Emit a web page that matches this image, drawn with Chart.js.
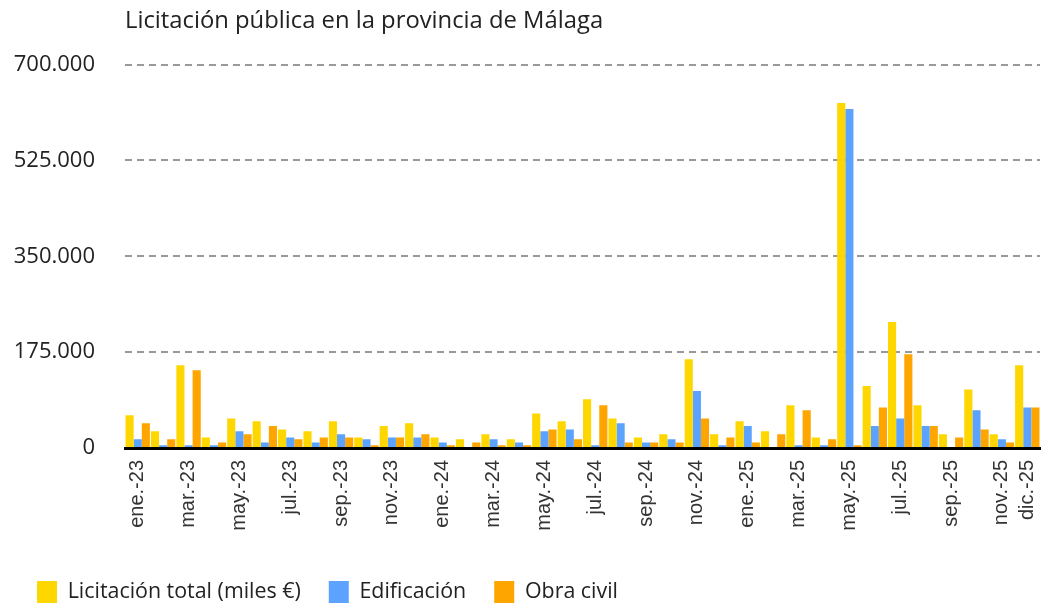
<!DOCTYPE html>
<html>
<head>
<meta charset="utf-8">
<script src="https://cdn.jsdelivr.net/npm/chart.js@4.4.1/dist/chart.umd.min.js"></script>
<style>
  html, body { margin: 0; padding: 0; background: #fff; }
  #wrap { width: 1044px; height: 610px; position: relative; }
</style>
</head>
<body>
<div id="wrap"><canvas id="licChart"></canvas></div>
<script>
const months = ['ene.', 'feb.', 'mar.', 'abr.', 'may.', 'jun.', 'jul.', 'ago.', 'sep.', 'oct.', 'nov.', 'dic.'];
const years = ['23', '24', '25'];
const labels = [];
years.forEach(y => months.forEach(m => labels.push(m + '-' + y)));

// miles de euros
const licitacionTotal = [
    60000, 30500, 151000, 19000, 54000, 49000, 34000, 30500, 49000, 19000, 40000, 45000,
    19000, 16000, 25000, 16000, 63000, 49000, 89000, 54000, 19000, 25000, 162000, 25000,
    49000, 30500, 78000, 19000, 630000, 113000, 230000, 78000, 25000, 107000, 25000, 151000
];
const edificacion = [
    16000, 5000, 5000, 5000, 30500, 10000, 19000, 10000, 25000, 16000, 19000, 19000,
    10000, 0, 16000, 10000, 30500, 34000, 5000, 45000, 10000, 16000, 104000, 5000,
    40000, 0, 5000, 5000, 619000, 40000, 54000, 40000, 0, 69000, 16000, 74000
];
const obraCivil = [
    45000, 16000, 142000, 10000, 25000, 40000, 16000, 19000, 19000, 5000, 19000, 25000,
    5000, 10000, 5000, 5000, 34000, 16000, 78000, 10000, 10000, 10000, 54000, 19000,
    10000, 25000, 69000, 16000, 5000, 74000, 171000, 40000, 19000, 34000, 10000, 74000
];
const yTicks = [0, 175000, 350000, 525000, 700000];

const font = "'Open Sans', 'Noto Sans', sans-serif";
const fmt = v => v.toString().replace(/\B(?=(\d{3})+(?!\d))/g, '.');

new Chart(document.getElementById('licChart'), {
    type: 'bar',
    data: {
        labels: labels,
        datasets: [
            { label: 'Licitación total (miles €)', data: licitacionTotal, backgroundColor: '#FFD700' },
            { label: 'Edificación', data: edificacion, backgroundColor: '#5CA3FF' },
            { label: 'Obra civil', data: obraCivil, backgroundColor: '#FFA500' }
        ]
    },
    options: {
        responsive: true,
        maintainAspectRatio: false,
        animation: false,
        datasets: {
            bar: { categoryPercentage: 0.96, barPercentage: 1.0 }
        },
        layout: { padding: { left: 9, right: 4, top: 7, bottom: -3 } },
        plugins: {
            title: {
                display: true,
                text: 'Licitación pública en la provincia de Málaga',
                align: 'start',
                fullSize: false,
                color: '#222',
                font: { family: font, size: 23.8, weight: 'normal' },
                padding: { top: 0, bottom: 29 }
            },
            legend: {
                position: 'bottom',
                align: 'start',
                labels: {
                    color: '#222',
                    font: { family: font, size: 21.4 },
                    boxWidth: 20,
                    boxHeight: 22,
                    padding: 28
                }
            },
            tooltip: { enabled: false }
        },
        scales: {
            x: {
                grid: { display: false },
                border: { display: true, color: '#000', width: 3 },
                ticks: {
                    color: '#333',
                    font: { family: "'Liberation Sans', Arial, sans-serif", size: 20 },
                    autoSkip: false,
                    maxRotation: 90,
                    minRotation: 90,
                    padding: 4,
                    callback: function (val, i) {
                        return (i % 2 === 0 || i === labels.length - 1) ? labels[i] : '';
                    }
                },
                afterFit: s => { s.height = 105; s.paddingRight = 4; }
            },
            y: {
                min: 0,
                max: 700000,
                afterBuildTicks: s => { s.ticks = yTicks.map(v => ({ value: v })); },
                border: { display: false, dash: [7, 5] },
                grid: {
                    drawTicks: false,
                    color: c => c.tick.value === 0 ? 'rgba(0,0,0,0)' : '#999',
                    lineWidth: 2
                },
                ticks: {
                    color: '#222',
                    font: { family: font, size: 22 },
                    padding: 30,
                    callback: v => fmt(v)
                },
                afterFit: s => { s.width = 116; }
            }
        }
    }
});
</script>
</body>
</html>
